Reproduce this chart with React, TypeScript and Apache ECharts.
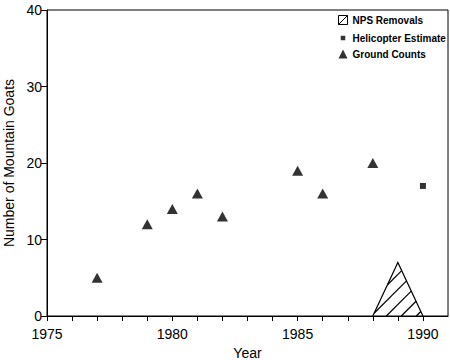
import React, { useEffect, useRef } from "react";
import * as echarts from "echarts";

const groundYears = [1977, 1979, 1980, 1981, 1982, 1985, 1986, 1988];
const groundCounts = [5, 12, 14, 16, 13, 19, 16, 20];
const heliYears = [1990];
const heliEstimates = [17];
// NPS removals: start year, end year, peak count (peak at middle year)
const npsRemovals = [[1988, 1990, 7]];
const xTickLabels = [1975, 1980, 1985, 1990];
const yTickLabels = [0, 10, 20, 30, 40];

const FONT = "Liberation Sans, Arial, Helvetica, sans-serif";

export default function App() {
  const ref = useRef<HTMLDivElement>(null);
  useEffect(() => {
    if (!ref.current) return;
    const chart = echarts.init(ref.current, null, { renderer: "svg" });
    const renderItem = (params: any, api: any) => {
      const x0 = api.value(0);
      const x1 = api.value(1);
      const h = api.value(2);
      const A = api.coord([x0, 0]);
      const C = api.coord([x1, 0]);
      const B = api.coord([(x0 + x1) / 2, h]);
      const pts = [A, B, C];
      const children: any[] = [];
      const fs = pts.map((p: number[]) => p[0] + p[1]);
      const kMin = Math.min(...fs);
      const kMax = Math.max(...fs);
      const step = 15;
      for (let k = kMin + step * 0.8; k < kMax; k += step) {
        const hits: number[][] = [];
        for (let i = 0; i < 3; i++) {
          const P = pts[i];
          const Q = pts[(i + 1) % 3];
          const fp = P[0] + P[1] - k;
          const fq = Q[0] + Q[1] - k;
          if ((fp <= 0 && fq > 0) || (fp > 0 && fq <= 0)) {
            const t = fp / (fp - fq);
            hits.push([P[0] + t * (Q[0] - P[0]), P[1] + t * (Q[1] - P[1])]);
          }
        }
        if (hits.length >= 2) {
          children.push({
            type: "line",
            shape: { x1: hits[0][0], y1: hits[0][1], x2: hits[1][0], y2: hits[1][1] },
            style: { stroke: "#000", lineWidth: 1.2 },
          });
        }
      }
      children.push({
        type: "polyline",
        shape: { points: [A, B, C] },
        style: { stroke: "#000", fill: "none", lineWidth: 1.2 },
      });
      return { type: "group", children };
    };

    chart.setOption({
      animation: false,
      backgroundColor: "#fff",
      textStyle: { fontFamily: FONT },
      grid: {
        left: 47,
        right: 2,
        top: 10,
        bottom: 44,
        containLabel: false,
        outerBoundsMode: "none",
        show: true,
        borderColor: "#000",
        borderWidth: 1,
      },
      legend: {
        orient: "vertical",
        left: 336,
        top: 13,
        padding: 0,
        itemWidth: 9,
        itemHeight: 9,
        itemGap: 6,
        textStyle: { fontSize: 10, color: "#000", fontFamily: FONT, fontWeight: "bold" },
        data: [
          {
            name: "NPS Removals",
            icon: "path://M0,0L10,0L10,10L0,10Z M0,10L10,0",
            itemStyle: { color: "none", borderColor: "#000", borderWidth: 1 },
          },
          { name: "Helicopter Estimate", icon: "path://M0,0M10,10M2.5,2.5h5v5h-5z" },
          { name: "Ground Counts", icon: "triangle" },
        ],
      },
      xAxis: {
        type: "value",
        min: 1975,
        max: 1991,
        interval: 1,
        name: "Year",
        nameLocation: "middle",
        nameGap: 25,
        nameTextStyle: { fontSize: 14, color: "#000", fontFamily: FONT },
        axisLine: { lineStyle: { color: "#000", width: 1 } },
        axisTick: { show: true, length: 5, inside: false, lineStyle: { color: "#000" } },
        axisLabel: {
          fontSize: 14,
          color: "#000",
          fontFamily: FONT,
          margin: 11,
          showMaxLabel: false,
          formatter: (v: number) => (xTickLabels.includes(v) ? String(v) : ""),
        },
        splitLine: { show: false },
      },
      yAxis: {
        type: "value",
        min: 0,
        max: 40,
        interval: 10,
        name: "Number of Mountain Goats",
        nameLocation: "middle",
        nameGap: 31,
        nameTextStyle: { fontSize: 14, color: "#000", fontFamily: FONT },
        axisLine: { show: true, lineStyle: { color: "#000", width: 1 } },
        axisTick: { show: true, length: 6, lineStyle: { color: "#000" } },
        axisLabel: {
          fontSize: 14,
          color: "#000",
          fontFamily: FONT,
          margin: 5,
          formatter: (v: number) => (yTickLabels.includes(v) ? String(v) : ""),
        },
        splitLine: { show: false },
      },
      series: [
        {
          name: "NPS Removals",
          type: "custom",
          renderItem,
          encode: { x: [0, 1], y: 2 },
          data: npsRemovals,
          itemStyle: { color: "#000" },
          clip: false,
          z: 1,
        },
        {
          name: "Helicopter Estimate",
          type: "scatter",
          symbol: "rect",
          symbolSize: 6,
          itemStyle: { color: "#000" },
          data: heliYears.map((y, i) => [y, heliEstimates[i]]),
          z: 3,
        },
        {
          name: "Ground Counts",
          type: "scatter",
          symbol: "triangle",
          symbolSize: [11, 10],
          itemStyle: { color: "#000" },
          data: groundYears.map((y, i) => [y, groundCounts[i]]),
          z: 3,
        },
      ],
    });
    return () => chart.dispose();
  }, []);
  return (
    <div
      ref={ref}
      style={{ position: "fixed", left: 0, top: 0, width: 450, height: 360 }}
    />
  );
}
